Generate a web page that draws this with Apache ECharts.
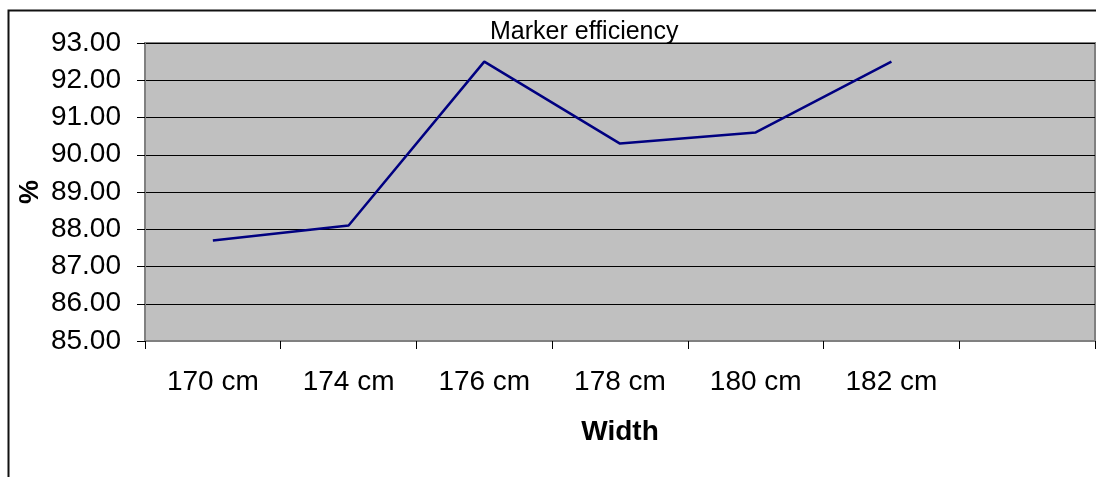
<!DOCTYPE html>
<html>
<head>
<meta charset="utf-8">
<style>
  html, body { margin: 0; padding: 0; background: #fff; }
  #chart { width: 1096px; height: 477px; }
</style>
<script src="https://cdn.jsdelivr.net/npm/echarts@6/dist/echarts.min.js"></script>
</head>
<body>
<div id="chart"></div>
<script>
// widths on the x axis (last slot is empty in the original)
const widths = ['170 cm', '174 cm', '176 cm', '178 cm', '180 cm', '182 cm', '']
// marker efficiency in %
const efficiency = [87.7, 88.1, 92.5, 90.3, 90.6, 92.5]

const chart = echarts.init(document.getElementById('chart'))

const font = 'Arial, "Liberation Sans", sans-serif'

const option = {
  animation: false,
  backgroundColor: '#fff',
  title: {
    text: 'Marker efficiency',
    left: 490,
    top: 20,
    padding: 0,
    textStyle: { color: '#000', fontSize: 25, fontWeight: 'normal', fontFamily: font }
  },
  graphic: [
    {
      // outer chart frame
      type: 'rect',
      shape: { x: 8.5, y: 10.5, width: 1200, height: 600 },
      style: { fill: 'none', stroke: '#111', lineWidth: 2 },
      silent: true
    }
  ],
  grid: {
    left: 145,
    right: 1,
    top: 43,
    bottom: 136,
    show: true,
    backgroundColor: '#c0c0c0',
    borderColor: '#808080',
    borderWidth: 2
  },
  xAxis: {
    type: 'category',
    data: widths,
    boundaryGap: true,
    name: 'Width',
    nameLocation: 'middle',
    nameGap: 77,
    nameTextStyle: { color: '#000', fontSize: 28, fontWeight: 'bold', fontFamily: font },
    axisLine: { show: true, lineStyle: { color: '#808080', width: 2 } },
    axisTick: { show: true, length: 8, interval: 0, lineStyle: { color: '#000' } },
    axisLabel: { color: '#000', fontSize: 28, fontFamily: font, margin: 27, interval: 0 },
    splitLine: { show: false }
  },
  yAxis: {
    type: 'value',
    min: 85,
    max: 93,
    interval: 1,
    name: '%',
    nameLocation: 'middle',
    nameRotate: 90,
    nameGap: 101,
    nameMoveOverlap: false,
    nameTextStyle: { color: '#000', fontSize: 27, fontWeight: 'bold', fontFamily: font },
    axisLine: { show: true, lineStyle: { color: '#808080', width: 2 } },
    axisTick: { show: true, length: 8, lineStyle: { color: '#000' } },
    axisLabel: {
      color: '#000',
      fontSize: 28,
      fontFamily: font,
      margin: 24,
      formatter: (v) => v.toFixed(2)
    },
    splitLine: { show: true, lineStyle: { color: '#000', width: 1 } }
  },
  series: [
    {
      type: 'line',
      data: efficiency,
      showSymbol: false,
      lineStyle: { color: '#000080', width: 2.5 }
    }
  ]
}

chart.setOption(option)
</script>
</body>
</html>
